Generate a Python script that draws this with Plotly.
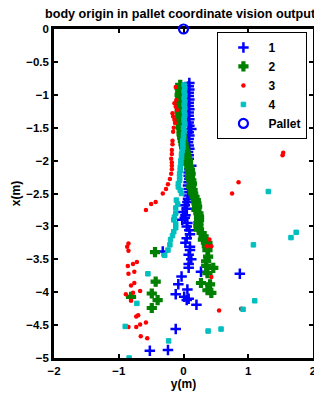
import plotly.graph_objects as go

# ---- data (y(m) horizontal, x(m) vertical) ----
s1_y = [0.09,0.08,0.09,0.08,0.08,0.09,0.08,0.08,0.09,0.08,0.08,0.09,0.08,0.09,0.12,0.08,0.09,0.08,0.07,0.08,
        0.09,0.07,0.08,0.08,0.06,0.12,0.09,0.08,0.08,0.09,0.08,0.07,0.08,0.09,0.08,0.07,0.06,
        0.02,0.05,-0.01,0.03,0.02,-0.02,0.06,0.05,0.09,0.10,0.05,0.03,0.10,0.10,0.08,0.12,0.08,0.08,
        -0.32,0.27,-0.03,0.87,-0.08,0.06,-0.12,0.01,0.08,0.05,0.20,-0.12,-0.52,-0.24]
s1_x = [-0.82,-0.87,-0.92,-0.97,-1.02,-1.07,-1.12,-1.17,-1.22,-1.27,-1.32,-1.37,-1.42,-1.47,-1.52,-1.57,-1.62,-1.67,-1.72,-1.77,
        -1.82,-1.87,-1.92,-1.97,-2.02,-2.08,-2.13,-2.18,-2.23,-2.28,-2.33,-2.38,-2.43,-2.48,-2.53,-2.58,-2.63,
        -2.68,-2.73,-2.78,-2.83,-2.87,-2.90,-2.95,-3.00,-3.06,-3.12,-3.18,-3.25,-3.31,-3.36,-3.43,-3.50,-3.57,-3.63,
        -3.38,-3.69,-3.76,-3.72,-3.88,-3.96,-4.03,-4.07,-4.10,-4.12,-4.19,-4.56,-4.89,-4.88]

s2_y = [-0.05,-0.06,-0.05,-0.06,-0.05,-0.06,-0.05,-0.05,-0.06,-0.05,-0.05,-0.05,-0.04,-0.04,-0.03,-0.03,-0.02,-0.01,0.0,0.01,
        0.03,0.04,0.05,0.07,0.07,0.09,0.10,0.11,0.10,0.12,0.13,0.12,0.14,0.15,0.17,0.19,0.20,0.21,0.20,0.23,
        0.24,0.24,0.23,0.23,0.24,0.28,0.31,0.30,0.37,0.36,0.37,
        -0.44,0.38,0.35,0.35,0.46,0.37,0.27,0.41,-0.43,0.37,0.43,-0.49,-0.81,-0.40,-0.49]
s2_x = [-0.85,-0.90,-0.95,-1.00,-1.05,-1.10,-1.15,-1.20,-1.25,-1.30,-1.35,-1.40,-1.45,-1.50,-1.55,-1.60,-1.65,-1.70,-1.75,-1.80,
        -1.85,-1.90,-1.95,-2.00,-2.05,-2.10,-2.15,-2.20,-2.25,-2.30,-2.35,-2.40,-2.45,-2.50,-2.55,-2.60,-2.65,-2.70,-2.75,-2.80,
        -2.85,-2.90,-2.95,-3.00,-3.05,-3.10,-3.15,-3.20,-3.25,-3.30,-3.36,
        -3.39,-3.46,-3.53,-3.60,-3.63,-3.71,-3.86,-3.88,-3.84,-3.97,-4.01,-4.02,-4.07,-4.12,-4.24]

s3_y = [-0.12,-0.11,-0.14,-0.12,-0.10,-0.17,-0.16,-0.14,-0.13,-0.15,-0.16,-0.17,-0.17,-0.18,-0.18,-0.19,-0.18,-0.18,-0.18,-0.19,
        -0.21,-0.24,-0.27,-0.32,-0.43,-0.50,-0.58,
        1.54,1.53,0.85,0.75,0.40,0.36,0.43,0.43,0.55,0.89,
        -0.85,-0.87,-0.85,-0.72,-0.78,-0.86,-0.76,-0.85,-0.76,-0.81,-0.67,-0.78,-0.89,-0.81,-0.70,-0.73,-0.58,-0.67,-0.73,-0.85,-0.66,-0.56]
s3_x = [-0.88,-1.08,-1.13,-1.18,-1.23,-1.28,-1.33,-1.38,-1.43,-1.50,-1.56,-1.70,-1.75,-1.84,-1.90,-1.97,-2.03,-2.08,-2.13,-2.20,
        -2.28,-2.36,-2.43,-2.50,-2.63,-2.66,-2.75,
        -1.88,-1.92,-2.33,-2.50,-3.20,-3.30,-3.30,-3.77,-4.28,-4.25,
        -3.26,-3.31,-3.37,-3.54,-3.57,-3.60,-3.69,-3.72,-3.86,-3.90,-3.98,-4.01,-4.03,-4.13,-4.35,-4.37,-4.46,-4.49,-4.53,-4.53,-4.67,-4.70]

s4_y = [0.01,0.02,0.01,0.02,0.01,0.02,0.01,0.02,0.01,0.02,0.01,0.01,0.02,0.0,0.01,0.0,0.0,-0.01,-0.01,-0.01,
        -0.02,-0.03,-0.03,-0.04,-0.04,-0.05,-0.05,-0.06,-0.06,-0.06,-0.08,-0.08,-0.05,-0.03,-0.11,-0.09,-0.12,-0.12,-0.14,-0.15,
        -0.12,-0.12,-0.15,-0.17,-0.20,-0.21,-0.24,-0.29,
        1.31,1.74,1.66,1.08,-0.55,-0.72,1.10,0.92,-0.90,0.58,0.38,-0.23,-0.84]
s4_x = [-0.85,-0.90,-0.95,-1.00,-1.05,-1.10,-1.15,-1.20,-1.25,-1.30,-1.35,-1.40,-1.45,-1.50,-1.55,-1.60,-1.65,-1.70,-1.75,-1.80,
        -1.85,-1.90,-1.95,-2.00,-2.05,-2.10,-2.15,-2.20,-2.25,-2.30,-2.35,-2.40,-2.45,-2.50,-2.60,-2.66,-2.72,-2.80,-2.86,-2.90,
        -2.96,-3.02,-3.08,-3.14,-3.20,-3.28,-3.36,-3.44,
        -2.47,-3.09,-3.17,-3.28,-3.72,-4.17,-4.13,-4.26,-4.52,-4.56,-4.59,-4.74,-5.00]

pallet_y = [0.0]
pallet_x = [0.0]

x_ticks = [-2, -1, 0, 1, 2]
x_ticktext = ["\u22122", "\u22121", "0", "1", "2"]
y_ticks = [0, -0.5, -1, -1.5, -2, -2.5, -3, -3.5, -4, -4.5, -5]
y_ticktext = ["0", "\u22120.5", "\u22121", "\u22121.5", "\u22122", "\u22122.5", "\u22123", "\u22123.5", "\u22124", "\u22124.5", "\u22125"]

FONT = "Liberation Sans, Arial, sans-serif"

fig = go.Figure()
fig.add_trace(go.Scatter(x=s1_y, y=s1_x, mode="markers", name="1",
                         marker=dict(symbol="cross-thin", size=7.5, color="#0000ff",
                                     line=dict(width=2.5, color="#0000ff"))))
fig.add_trace(go.Scatter(x=s2_y, y=s2_x, mode="markers", name="2",
                         marker=dict(symbol="cross", size=7.5, color="#008000",
                                     line=dict(width=1.2, color="#008000"))))
fig.add_trace(go.Scatter(x=s3_y, y=s3_x, mode="markers", name="3",
                         marker=dict(symbol="circle", size=4.5, color="#ff0000", line=dict(width=0))))
fig.add_trace(go.Scatter(x=s4_y, y=s4_x, mode="markers", name="4",
                         marker=dict(symbol="square", size=4.5, color="#00bfbf",
                                     line=dict(width=1, color="#00bfbf"))))
fig.add_trace(go.Scatter(x=pallet_y, y=pallet_x, mode="markers", name="Pallet", cliponaxis=False,
                         marker=dict(symbol="circle-open", size=9, color="#0000ff",
                                     line=dict(width=2.2, color="#0000ff"))))

axis_common = dict(showgrid=False, zeroline=False, showline=True, linecolor="black", linewidth=2.5,
                   mirror="ticks", ticks="inside", ticklen=4, tickwidth=2, tickcolor="black",
                   tickfont=dict(family=FONT, size=11.5, color="black", weight="bold"),
                   layer="below traces")

# page body has an 8px margin, so the figure is sized/placed to compensate
fig.update_layout(
    width=314, height=386,
    margin=dict(l=45, r=6, t=21, b=36),
    paper_bgcolor="white", plot_bgcolor="white",
    title=dict(text="body origin in pallet coordinate vision output", x=0.548, xanchor="center",
               y=0.986, yanchor="middle",
               font=dict(family=FONT, size=12.6, color="black", weight="bold")),
    xaxis=dict(range=[-2, 2], tickvals=x_ticks, ticktext=x_ticktext,
               title=dict(text="y(m)", standoff=2,
                          font=dict(family=FONT, size=12, color="black", weight="bold")),
               **axis_common),
    yaxis=dict(range=[-5, 0], tickvals=y_ticks, ticktext=y_ticktext,
               title=dict(text="x(m)", standoff=4,
                          font=dict(family=FONT, size=12, color="black", weight="bold")),
               **axis_common),
    legend=dict(x=0.631, y=0.991, xanchor="left", yanchor="top",
                bgcolor="white", bordercolor="black", borderwidth=1,
                font=dict(family=FONT, size=12, color="black", weight="bold"),
                itemwidth=40, tracegroupgap=0),
    showlegend=True,
)

fig.write_html("out.html")
